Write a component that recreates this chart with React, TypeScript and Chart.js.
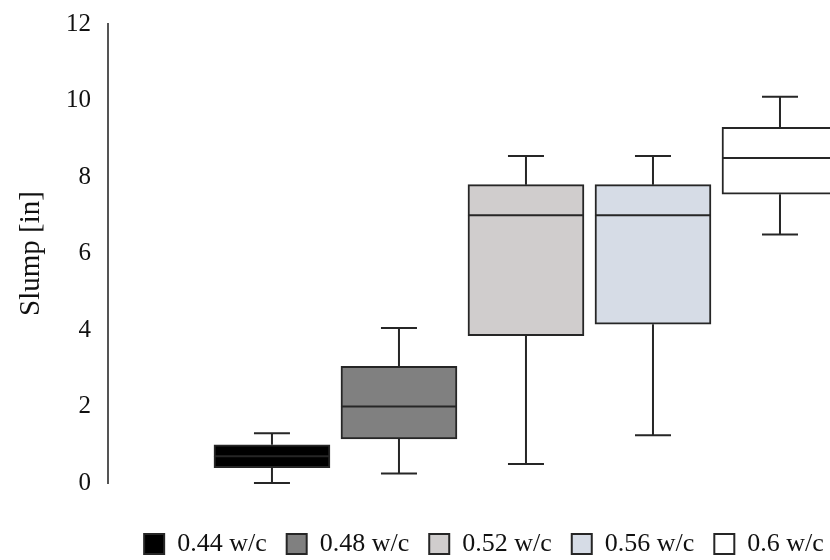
import React, { useEffect, useRef } from "react";
import { Chart, registerables } from "chart.js";

Chart.register(...registerables);

const labels = ["0.44 w/c", "0.48 w/c", "0.52 w/c", "0.56 w/c", "0.6 w/c"];
const positions = [1, 2, 3, 4, 5];
const mins = [0, 0.25, 0.5, 1.25, 6.5];
const q1s = [0.4, 1.15, 3.85, 4.15, 7.55];
const medians = [0.7, 2, 7, 7, 8.5];
const q3s = [1.0, 3.05, 7.8, 7.8, 9.3];
const maxs = [1.3, 4.05, 8.55, 8.55, 10.1];
const fills = ["#000000", "#808080", "#d0cdcd", "#d6dce6", "#ffffff"];
const yTicks = [0, 2, 4, 6, 8, 10, 12];

const SERIF = "'Liberation Serif', 'Times New Roman', serif";
const LINE = "#262626";

const whiskerPlugin = {
  id: "whiskers",
  afterDatasetsDraw(chart: any) {
    const ctx = chart.ctx;
    const xs = chart.scales.x;
    const ys = chart.scales.y;
    ctx.save();
    ctx.strokeStyle = LINE;
    ctx.lineWidth = 2;
    positions.forEach((p, i) => {
      const cx = xs.getPixelForValue(p);
      const half = 58;
      const cap = 18;
      const yMin = ys.getPixelForValue(mins[i]);
      const yQ1 = ys.getPixelForValue(q1s[i]);
      const yMed = ys.getPixelForValue(medians[i]);
      const yQ3 = ys.getPixelForValue(q3s[i]);
      const yMax = ys.getPixelForValue(maxs[i]);
      ctx.beginPath();
      ctx.moveTo(cx, yQ3);
      ctx.lineTo(cx, yMax);
      ctx.moveTo(cx - cap, yMax);
      ctx.lineTo(cx + cap, yMax);
      ctx.moveTo(cx, yQ1);
      ctx.lineTo(cx, yMin);
      ctx.moveTo(cx - cap, yMin);
      ctx.lineTo(cx + cap, yMin);
      ctx.moveTo(cx - half, yMed);
      ctx.lineTo(cx + half, yMed);
      ctx.stroke();
    });
    ctx.restore();
  },
};

export default function App() {
  const ref = useRef<HTMLCanvasElement>(null);
  useEffect(() => {
    if (!ref.current) return;
    const datasets = labels.map((l, i) => ({
      label: l,
      data: [{ x: positions[i], y: [q1s[i], q3s[i]] }],
      backgroundColor: fills[i],
      borderColor: LINE,
      borderWidth: 2,
      borderSkipped: false,
      barThickness: 116,
      grouped: false,
    }));
    const chart = new Chart(ref.current, {
      type: "bar",
      data: { datasets: datasets as any },
      plugins: [whiskerPlugin],
      options: {
        animation: false,
        responsive: false,
        devicePixelRatio: 1,
        layout: { padding: { left: 0, right: 10, top: 14, bottom: 13 } },
        plugins: {
          tooltip: { enabled: false },
          legend: {
            position: "bottom",
            fullSize: false,
            labels: {
              boxWidth: 20,
              boxHeight: 20,
              padding: 20,
              color: "#111",
              font: { family: SERIF, size: 26 },
            },
          },
        },
        scales: {
          x: {
            type: "linear",
            offset: false,
            min: -0.291,
            max: 5.63,
            display: true,
            ticks: { display: false },
            grid: { display: false },
            border: { display: false },
            afterFit(scale: any) {
              scale.height = 28;
            },
          },
          y: {
            type: "linear",
            min: 0,
            max: 12,
            afterBuildTicks(scale: any) {
              scale.ticks = yTicks.map((v) => ({ value: v }));
            },
            ticks: {
              color: "#111",
              padding: 9,
              font: { family: SERIF, size: 25 },
            },
            grid: { display: false },
            border: { display: true, color: "#555", width: 2 },
            title: {
              display: true,
              text: "Slump [in]",
              color: "#111",
              padding: { top: 14, bottom: 0 },
              font: { family: SERIF, size: 29 },
            },
            afterFit(scale: any) {
              scale.width = 108;
            },
          },
        },
      },
    });
    return () => chart.destroy();
  }, []);
  return (
    <div
      style={{
        position: "absolute",
        left: 0,
        top: 0,
        width: 830,
        height: 560,
        overflow: "hidden",
        background: "#fff",
      }}
    >
      <canvas ref={ref} width={870} height={580} style={{ display: "block" }} />
    </div>
  );
}
